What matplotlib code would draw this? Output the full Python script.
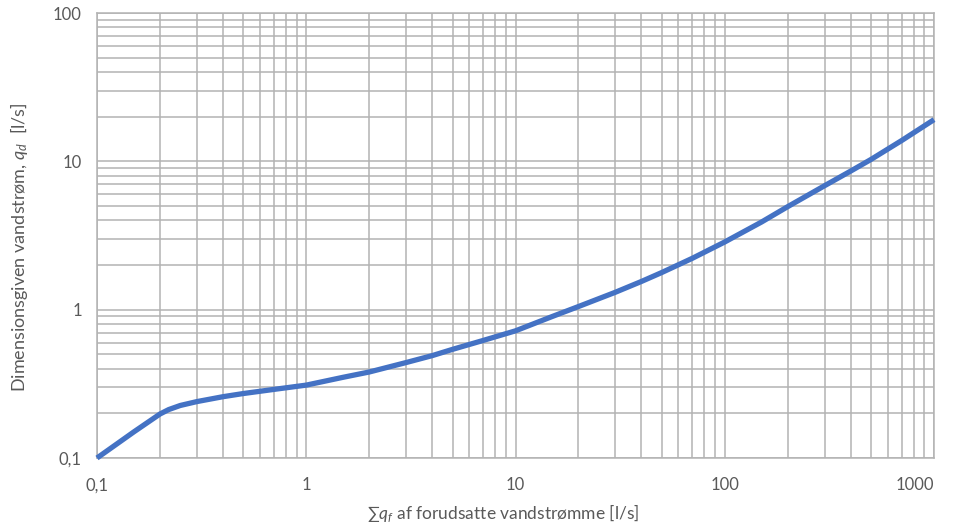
import matplotlib
matplotlib.use("Agg")
import matplotlib.pyplot as plt
from matplotlib.ticker import FixedLocator, FixedFormatter, LogLocator, NullFormatter

plt.rcParams['font.family'] = ['Lato', 'DejaVu Sans']
plt.rcParams['mathtext.fontset'] = 'custom'
plt.rcParams['mathtext.it'] = 'Lato:italic'
plt.rcParams['mathtext.rm'] = 'Lato'

# Data
sum_qf = [0.1, 0.15, 0.2, 0.22, 0.25, 0.3, 0.4, 0.5, 0.7, 1, 1.5, 2, 3, 4, 5, 7, 10, 15,
          20, 30, 40, 50, 70, 100, 150, 200, 300, 400, 500, 700, 1000]
q_d = [0.1, 0.15, 0.198, 0.212, 0.226, 0.24, 0.259, 0.272, 0.29, 0.31, 0.35, 0.38, 0.44,
       0.49, 0.54, 0.62, 0.72, 0.90, 1.05, 1.31, 1.55, 1.78, 2.22, 2.86, 3.9, 4.95, 6.85,
       8.6, 10.3, 13.8, 19.1]

x_ticks = [0.1, 1, 10, 100, 1000]
x_tick_labels = ["0,1", "1", "10", "100", "1000"]
y_ticks = [0.1, 1, 10, 100]
y_tick_labels = ["0,1", "1", "10", "100"]

fig = plt.figure(figsize=(9.58, 5.25), dpi=100)
ax = fig.add_axes([97/958, 1 - 458/525, (934-97)/958, (458-13)/525])

ax.plot(sum_qf, q_d, color="#4472C4", linewidth=3.8, solid_capstyle="butt",
        solid_joinstyle="round", zorder=3, clip_on=False)

ax.set_xscale("log")
ax.set_yscale("log")
ax.set_xlim(0.1, 1000)
ax.set_ylim(0.1, 100)

ax.xaxis.set_major_locator(FixedLocator(x_ticks))
ax.xaxis.set_major_formatter(FixedFormatter(x_tick_labels))
ax.yaxis.set_major_locator(FixedLocator(y_ticks))
ax.yaxis.set_major_formatter(FixedFormatter(y_tick_labels))
ax.xaxis.set_minor_locator(LogLocator(base=10, subs=range(2, 10), numticks=20))
ax.yaxis.set_minor_locator(LogLocator(base=10, subs=range(2, 10), numticks=20))
ax.xaxis.set_minor_formatter(NullFormatter())
ax.yaxis.set_minor_formatter(NullFormatter())

grid_color = "#b3b3b3"
ax.grid(True, which="both", color=grid_color, linewidth=1.1)
for s in ax.spines.values():
    s.set_color(grid_color)
    s.set_linewidth(1.1)

ax.tick_params(which="both", length=0, colors="#595959", labelsize=12)
ax.tick_params(axis="x", pad=14)
ax.tick_params(axis="y", pad=11)

ax.set_xlabel(r"∑$q_f$ af forudsatte vandstrømme [l/s]", fontsize=12.5, color="#595959")
ax.set_ylabel(r"Dimensionsgiven vandstrøm, $q_d$  [l/s]", fontsize=13, color="#595959")
ax.xaxis.set_label_coords(0.485, -0.100)
ax.yaxis.set_label_coords(-0.080, 0.474)

fig.canvas.draw()
ax.get_xticklabels()[-1].set_horizontalalignment("right")

fig.savefig("out.png", dpi=100)
